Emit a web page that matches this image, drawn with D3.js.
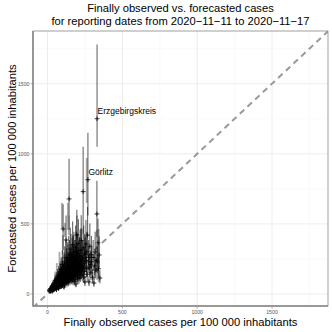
<!DOCTYPE html>
<html><head><meta charset="utf-8">
<script src="https://cdn.jsdelivr.net/npm/d3@7"></script>
<style>body{margin:0;background:#fff}svg{display:block;font-family:"Liberation Sans",Arial,sans-serif}</style>
</head><body>
<svg id="c" width="332" height="332"></svg>
<script>
const titleLines = ["Finally observed vs. forecasted cases", "for reporting dates from 2020\u221211\u221211 to 2020\u221211\u221217"];
const xTitle = "Finally observed cases per 100 000 inhabitants";
const yTitle = "Forecasted cases per 100 000 inhabitants";
const majorTicks = [0, 500, 1000, 1500];
const minorTicks = [250, 750, 1250, 1750];
// [observed, forecast, lower, upper]
const forecastRows = [
[14,22,15,32],[18,30,20,44],[22,18,12,27],[25,35,24,52],[28,26,17,38],[30,45,30,66],[33,20,13,30],[36,38,25,56],
[38,55,36,80],[40,28,18,42],[43,48,32,70],[46,62,40,92],[48,35,23,52],[50,70,46,104],[52,42,28,62],[55,85,56,126],
[57,52,34,77],[60,30,20,45],[62,65,43,96],[64,95,62,140],[66,45,30,67],[68,78,51,115],[70,110,72,163],[72,58,38,86],
[74,40,26,60],[76,90,59,133],[78,125,82,185],[80,68,45,100],[82,50,33,74],[84,100,66,148],[86,140,92,207],[88,75,49,111],
[90,160,105,237],[92,55,36,81],[94,115,75,170],[96,85,56,126],[98,180,118,266],[100,62,41,92],[102,130,85,192],[104,464,314,640],
[106,95,62,140],[108,150,98,222],[110,50,33,74],[112,200,131,296],[114,110,72,163],[116,75,49,111],[118,170,111,252],[120,130,85,192],
[122,90,59,133],[124,385,250,560],[126,220,144,326],[128,140,92,207],[130,100,66,148],[132,250,164,370],[134,160,105,237],[136,80,52,118],
[138,190,124,281],[140,120,79,178],[142,280,183,414],[144,678,457,964],[146,150,98,222],[148,210,137,311],[150,95,62,140],[152,320,210,474],
[154,175,115,259],[156,130,85,192],[158,240,157,355],[160,110,72,163],[162,200,131,296],[164,270,177,400],[166,150,98,222],[168,350,229,518],
[170,120,79,178],[172,230,151,340],[174,180,118,266],[176,300,196,444],[178,90,59,133],[180,160,105,237],[182,260,170,385],[184,210,137,311],
[186,140,92,207],[188,330,216,488],[190,71,47,105],[192,190,124,281],[194,250,164,370],[196,421,280,600],[198,170,111,252],[200,290,190,429],
[202,130,85,192],[204,220,144,326],[206,360,236,533],[208,180,118,266],[210,110,72,163],[212,270,177,400],[214,200,131,296],[216,150,98,222],
[218,310,203,459],[220,240,157,355],[222,170,111,252],[225,380,249,562],[228,200,131,296],[230,314,206,465],[232,140,92,207],[235,260,170,385],
[238,730,430,1050],[240,190,124,281],[242,330,216,488],[245,220,144,326],[248,160,105,237],[250,86,56,127],[252,280,183,414],[255,240,157,355],
[257,357,234,528],[260,180,118,266],[262,300,196,444],[265,140,92,207],[268,420,275,621],[270,815,560,1150],[272,230,151,340],[275,260,170,385],
[277,86,56,127],[280,190,124,281],[283,340,223,503],[286,210,137,311],[290,150,98,222],[293,280,183,414],[296,230,151,340],[300,120,79,178],
[305,260,170,385],[310,78,51,115],[315,200,131,296],[318,300,196,444],[322,170,111,252],[326,240,157,355],[330,571,407,807],[331,1250,1050,1780],
[333,228,150,337],[337,364,238,538],[340,180,118,266],[345,278,182,411],[350,114,75,169],
[12,28,18,42],[16,20,13,30],[20,38,25,58],[24,26,17,40],[27,50,33,74],[29,32,21,48],[32,60,40,90],[34,28,18,42],[37,44,29,66],[39,70,46,104],
[41,36,24,54],[44,58,38,86],[47,80,53,118],[49,46,30,68],[51,95,62,140],[53,56,37,83],[56,40,26,60],[58,75,49,111],[61,105,69,155],[63,55,36,82],
[65,88,58,130],[67,120,79,178],[69,66,43,98],[71,48,32,71],[73,98,64,145],[75,135,88,200],[77,72,47,107],[79,110,72,163],[81,58,38,86],[83,150,98,222],
[85,82,54,121],[87,120,79,178],[89,96,63,142],[91,175,115,259],[93,68,45,101],[95,135,88,200],[97,105,69,155],[99,210,138,311],[101,78,51,115],[103,160,105,237],
[105,120,79,178],[107,88,58,130],[109,190,124,281],[111,140,92,207],[113,65,43,96],[115,230,151,340],[117,100,66,148],[119,155,102,229],[121,118,77,175],[123,260,170,385],
[125,85,56,126],[127,180,118,266],[129,125,82,185],[131,205,134,303],[133,145,95,215],[135,110,72,163],[137,240,157,355],[139,165,108,244],[141,90,59,133],[143,195,128,289],
[145,130,85,192],[147,260,170,385],[149,175,115,259],[151,115,75,170],[153,210,137,311],[155,145,95,215],[157,290,190,429],[159,185,121,274],[161,135,88,200],[163,225,147,333],
[165,100,66,148],[167,195,128,289],[169,160,105,237],[171,280,183,414],[173,125,82,185],[175,215,141,318],[177,145,95,215],[179,240,157,355],[181,185,121,274],[183,105,69,155],
[185,260,170,385],[187,170,111,252],[189,220,144,326],[191,130,85,192],[193,300,196,444],[195,195,128,289],[197,150,98,222],[199,245,160,363],[201,115,75,170],[203,185,121,274],
[207,230,151,340],[211,160,105,237],[215,275,180,407],[219,130,85,192],[223,210,137,311],[227,160,105,237],[231,250,164,370],[236,180,118,266],[241,120,79,178],[246,290,190,429]
];
// secondary (grey) intervals: [observed, lower, upper]
const greyRows = [[104,471,650],[144,457,650],[270,650,970],[337,364,457],[350,85,464],[124,407,507],[345,186,328],[60,60,160],[88,150,300],[205,380,560],[320,100,200],
[150,420,560],[110,280,420],[230,330,470],[300,180,300],[180,300,420],[70,120,220],[260,250,400],[340,100,180]];
// labelled districts: [name, observed, forecast]
const labelRows = [["Erzgebirgskreis",331,1250],["G\u00f6rlitz",270,815]];

const svg = d3.select("#c");
const L = 33, R = 328, T = 31, B = 306;
const x = d3.scaleLinear().domain([-97, 1874]).range([L, R]);
const y = d3.scaleLinear().domain([-86, 1876]).range([B, T]);

const g = svg.append("g");
g.append("rect").attr("x", L).attr("y", T).attr("width", R - L).attr("height", B - T).attr("fill", "#fff");
g.selectAll(".mnx").data(minorTicks).join("line").attr("x1", d => x(d)).attr("x2", d => x(d)).attr("y1", T).attr("y2", B).attr("stroke", "#f4f4f4").attr("stroke-width", 0.5);
g.selectAll(".mny").data(minorTicks).join("line").attr("y1", d => y(d)).attr("y2", d => y(d)).attr("x1", L).attr("x2", R).attr("stroke", "#f4f4f4").attr("stroke-width", 0.5);
g.selectAll(".mjx").data(majorTicks).join("line").attr("x1", d => x(d)).attr("x2", d => x(d)).attr("y1", T).attr("y2", B).attr("stroke", "#ebebeb").attr("stroke-width", 0.9);
g.selectAll(".mjy").data(majorTicks).join("line").attr("y1", d => y(d)).attr("y2", d => y(d)).attr("x1", L).attr("x2", R).attr("stroke", "#ebebeb").attr("stroke-width", 0.9);

svg.append("clipPath").attr("id", "pc").append("rect").attr("x", L).attr("y", T).attr("width", R - L).attr("height", B - T);
const pg = svg.append("g").attr("clip-path", "url(#pc)");
pg.append("line").attr("x1", x(-200)).attr("y1", y(-200)).attr("x2", x(2000)).attr("y2", y(2000))
  .attr("stroke", "#999").attr("stroke-width", 2).attr("stroke-dasharray", "6,4.5");

pg.selectAll(".gi").data(greyRows).join("line")
  .attr("x1", d => x(d[0]) - 1.2).attr("x2", d => x(d[0]) - 1.2).attr("y1", d => y(d[1])).attr("y2", d => y(d[2]))
  .attr("stroke", "#aaa").attr("stroke-width", 1.8);
pg.selectAll(".bi").data(forecastRows).join("line")
  .attr("x1", d => x(d[0])).attr("x2", d => x(d[0])).attr("y1", d => y(d[2])).attr("y2", d => y(d[3]))
  .attr("stroke", "#000").attr("stroke-width", 0.65);
const cr = 2.4;
pg.selectAll(".pt").data(forecastRows).join("path")
  .attr("d", d => { const cx = x(d[0]), cy = y(d[1]); return `M${cx - cr},${cy}H${cx + cr}M${cx},${cy - cr}V${cy + cr}`; })
  .attr("stroke", "#000").attr("stroke-width", 0.8).attr("fill", "none");

svg.selectAll(".lb").data(labelRows).join("text")
  .attr("x", d => x(d[1]) + 0.5).attr("y", d => y(d[2]) - 5)
  .attr("font-size", 8.5).attr("fill", "#000").text(d => d[0]);

svg.append("rect").attr("x", L).attr("y", T).attr("width", R - L).attr("height", B - T).attr("fill", "none").attr("stroke", "#888").attr("stroke-width", 0.8);
svg.append("path").attr("d", `M${L},${T}V${B}H${R}`).attr("fill", "none").attr("stroke", "#888").attr("stroke-width", 1.6);

svg.selectAll(".tx").data(majorTicks).join("line").attr("x1", d => x(d)).attr("x2", d => x(d)).attr("y1", B).attr("y2", B + 2.5).attr("stroke", "#888").attr("stroke-width", 0.7);
svg.selectAll(".ty").data(majorTicks).join("line").attr("y1", d => y(d)).attr("y2", d => y(d)).attr("x1", L - 2.5).attr("x2", L).attr("stroke", "#888").attr("stroke-width", 0.7);
svg.selectAll(".txl").data(majorTicks).join("text").attr("x", d => x(d)).attr("y", B + 7.5).attr("text-anchor", "middle")
  .attr("font-size", 5.2).attr("fill", "#555").text(d => d);
svg.selectAll(".tyl").data(majorTicks).join("text").attr("x", L - 3.5).attr("y", d => y(d) + 1.8).attr("text-anchor", "end")
  .attr("font-size", 5.2).attr("fill", "#555").text(d => d);

svg.selectAll(".tt").data(titleLines).join("text").attr("x", (L + R) / 2).attr("y", (d, i) => 12 + i * 13)
  .attr("text-anchor", "middle").attr("font-size", 11.2).attr("fill", "#000").text(d => d);
svg.append("text").attr("x", (L + R) / 2).attr("y", 326).attr("text-anchor", "middle").attr("font-size", 11.2).text(xTitle);
svg.append("text").attr("transform", `translate(16,${(T + B) / 2}) rotate(-90)`).attr("text-anchor", "middle").attr("font-size", 11.2).text(yTitle);
</script>
</body></html>
